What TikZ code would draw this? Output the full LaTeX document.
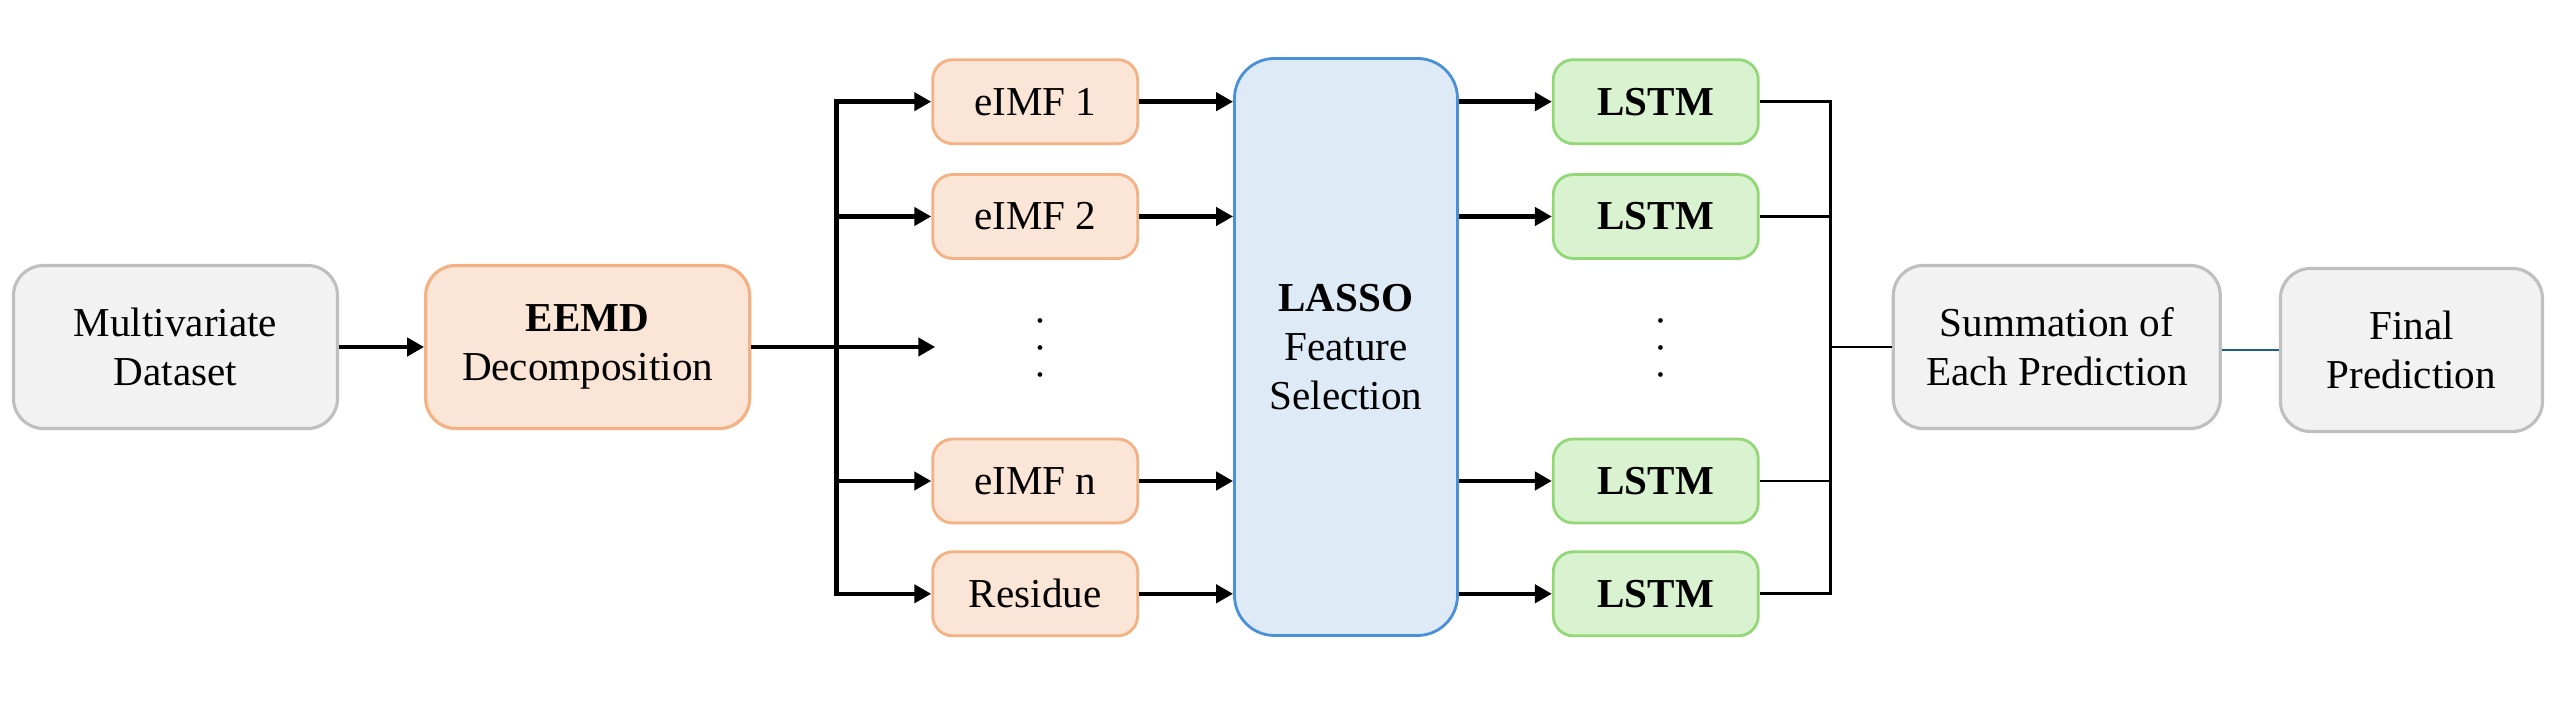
\documentclass[tikz,border=0pt]{standalone}
\usepackage{fontspec}
\setmainfont{Liberation Serif}
\usepackage{tikz}
\usetikzlibrary{arrows.meta,shapes,positioning}
\definecolor{boxgray}{RGB}{242,242,242}
\definecolor{edgegray}{RGB}{191,191,191}
\definecolor{imforange}{RGB}{251,229,214}
\definecolor{edgeorange}{RGB}{244,177,131}
\definecolor{lassoblue}{RGB}{222,235,247}
\definecolor{edgeblue}{RGB}{74,144,217}
\definecolor{lstmgreen}{RGB}{217,242,208}
\definecolor{edgegreen}{RGB}{146,216,118}
\definecolor{linkteal}{RGB}{28,94,135}
\tikzstyle{bigbox} = [rectangle, rounded corners=0.3cm, minimum width=3.24cm, minimum height=1.63cm, align=center, line width=0.9pt]
\tikzstyle{inputbox} = [bigbox, draw=edgegray, fill=boxgray]
\tikzstyle{decompbox} = [bigbox, draw=edgeorange, fill=imforange]
\tikzstyle{imfbox} = [rectangle, rounded corners=0.2cm, minimum width=2.05cm, minimum height=0.84cm, text centered, draw=edgeorange, fill=imforange, line width=0.8pt]
\tikzstyle{lstmbox} = [imfbox, draw=edgegreen, fill=lstmgreen]
\tikzstyle{selectbox} = [rectangle, rounded corners=0.4cm, minimum width=2.23cm, minimum height=5.77cm, align=center, draw=edgeblue, fill=lassoblue, line width=0.8pt]
\tikzstyle{vdotsbox} = [minimum width=2.08cm, align=center, font=\fontsize{5.6}{7.7}\selectfont]
\tikzstyle{arrow} = [line width=1.3pt,-{Triangle[length=1.7mm,width=1.8mm]}]
\tikzstyle{link} = [line width=0.8pt]

\begin{document}
\begin{tikzpicture}[font=\fontsize{11.7}{14}\selectfont]
\useasboundingbox (0,0) rectangle (25.55,7.22);

% Input and decomposition
\node (dataset) [inputbox] at (1.755,3.75) {Multivariate\\Dataset};
\node (eemd) [decompbox, right=0.85cm of dataset] {\textbf{EEMD}\\Decomposition};

% Components
\node (imfdots) [vdotsbox, right=1.8cm of eemd, xshift=0.04cm, yshift=-0.03cm] {\textbullet\\\textbullet\\\textbullet};
\node (imf2) [imfbox, right=1.8cm of eemd, yshift=1.305cm] {eIMF 2};
\node (imf1) [imfbox, above=0.28cm of imf2] {eIMF 1};
\node (imfn) [imfbox, right=1.8cm of eemd, yshift=-1.34cm] {eIMF n};
\node (residue) [imfbox, below=0.26cm of imfn] {Residue};

% Feature selection
\node (lasso) [selectbox, right=0.94cm of imf2.east |- eemd] {\textbf{LASSO}\\Feature\\Selection};

% LSTM models
\node (lstm2) [lstmbox, right=0.93cm of lasso.east |- imf2] {\textbf{LSTM}};
\node (lstm1) [lstmbox, above=0.28cm of lstm2] {\textbf{LSTM}};
\node (lstmdots) [vdotsbox, right=0.93cm of lasso.east |- imfdots, xshift=0.04cm] {\textbullet\\\textbullet\\\textbullet};
\node (lstmn) [lstmbox, right=0.93cm of lasso.east |- imfn] {\textbf{LSTM}};
\node (lstmr) [lstmbox, below=0.26cm of lstmn] {\textbf{LSTM}};

% Output
\node (summation) [inputbox, right=1.32cm of lstm2.east |- eemd, minimum width=3.27cm] {Summation of\\Each Prediction};
\node (final) [inputbox, right=0.57cm of summation, yshift=-0.03cm, minimum width=2.62cm] {Final\\Prediction};

% Arrows
\coordinate [right=0.85cm of eemd] (split);
\coordinate [right=0.71cm of lstm2.east |- eemd] (join);
\draw[arrow] (dataset) -- (eemd);
\draw[arrow] (eemd) -- (imfdots.west |- eemd);
\foreach \n in {imf1,imf2,imfn,residue}
  \draw[arrow] (split) |- (\n);
\foreach \n in {imf1,imf2,imfn,residue}
  \draw[arrow] (\n) -- (lasso.west |- \n);
\foreach \n in {lstm1,lstm2,lstmn,lstmr}
  \draw[arrow] (lasso.east |- \n) -- (\n);
\foreach \n in {lstm1,lstm2,lstmn,lstmr}
  \draw[link] (\n) -| (join);
\draw[link] (join) -- (summation);
\draw[link, draw=linkteal] (summation.east |- final) -- (final);
\end{tikzpicture}
\end{document}
